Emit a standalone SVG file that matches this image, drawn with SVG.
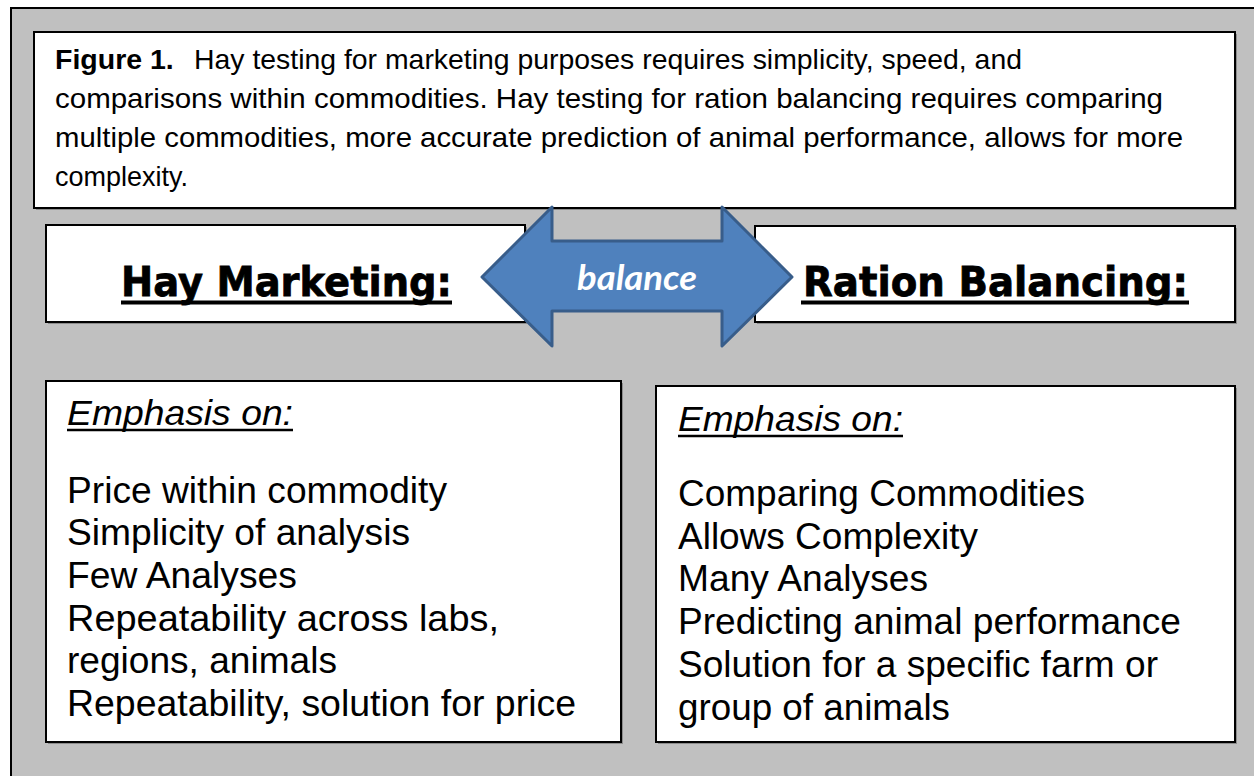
<svg xmlns="http://www.w3.org/2000/svg" width="1254" height="776" viewBox="0 0 1254 776">
  <style>
    .panel { fill: #ffffff; stroke: #000000; stroke-width: 2; }
    .shadow { fill: #8c8c8c; }
    .cap { font-family: "Liberation Sans", Arial, sans-serif; font-size: 28.5px; fill: #000000; }
    .head { font-family: "DejaVu Sans", "Liberation Sans", sans-serif; font-weight: bold; font-size: 41px; fill: #000000; stroke: #000000; stroke-width: 0.8px; }
    .body { font-family: "Liberation Sans", Arial, sans-serif; font-size: 36px; fill: #000000; }
    .emph { font-family: "Liberation Sans", Arial, sans-serif; font-size: 35px; font-style: italic; fill: #000000; }
    .rule { stroke: #000000; }
  </style>

  <!-- page -->
  <rect x="0" y="0" width="1254" height="776" fill="#ffffff"/>
  <rect x="11" y="8" width="1260" height="790" fill="#c0c0c0" stroke="#000000" stroke-width="2"/>

  <!-- caption -->
  <g id="caption">
    <rect class="shadow" x="36" y="34" width="1201" height="176"/>
    <rect class="panel" x="34" y="32" width="1201" height="176"/>
    <text class="cap" x="55" y="69"><tspan font-weight="bold">Figure 1.</tspan><tspan x="194" textLength="828" lengthAdjust="spacingAndGlyphs">Hay testing for marketing purposes requires simplicity, speed, and</tspan></text>
    <text class="cap" x="55" y="108" textLength="1108" lengthAdjust="spacingAndGlyphs">comparisons within commodities. Hay testing for ration balancing requires comparing</text>
    <text class="cap" x="55" y="147" textLength="1128" lengthAdjust="spacingAndGlyphs">multiple commodities, more accurate prediction of animal performance, allows for more</text>
    <text class="cap" x="55" y="186" textLength="133" lengthAdjust="spacingAndGlyphs">complexity.</text>
  </g>

  <!-- heading: hay marketing -->
  <g id="hay-marketing">
    <rect class="shadow" x="48" y="227" width="479" height="97"/>
    <rect class="panel" x="46" y="225" width="479" height="97"/>
    <text class="head" x="121" y="296" textLength="331" lengthAdjust="spacingAndGlyphs">Hay Marketing:</text>
    <line class="rule" x1="121" y1="302.5" x2="452" y2="302.5" stroke-width="4"/>
  </g>

  <!-- heading: ration balancing -->
  <g id="ration-balancing">
    <rect class="shadow" x="757" y="228" width="480" height="96"/>
    <rect class="panel" x="755" y="226" width="480" height="96"/>
    <text class="head" x="803" y="296" textLength="385" lengthAdjust="spacingAndGlyphs">Ration Balancing:</text>
    <line class="rule" x1="801" y1="302.5" x2="1189" y2="302.5" stroke-width="4"/>
  </g>

  <!-- connectors -->
  <g id="connectors">
    <polygon points="482,277 552,207 552,241 722,241 722,207 792,277 722,346 722,311 552,311 552,346"
             fill="#4f81bd" stroke="#385d8a" stroke-width="3" stroke-linejoin="round"/>
    <text x="637" y="290" text-anchor="middle" font-family="Lato, 'Open Sans', sans-serif" font-size="34" font-weight="bold" font-style="italic" fill="#ffffff" textLength="120" lengthAdjust="spacingAndGlyphs">balance</text>
  </g>

  <!-- emphasis: marketing -->
  <g id="marketing-emphasis">
    <rect class="shadow" x="48" y="383" width="575" height="361"/>
    <rect class="panel" x="46" y="381" width="575" height="361"/>
    <text class="emph" x="67" y="425" textLength="226" lengthAdjust="spacingAndGlyphs">Emphasis on:</text>
    <line class="rule" x1="67" y1="430" x2="293" y2="430" stroke-width="2.5"/>
    <text class="body" x="67" y="503" textLength="380" lengthAdjust="spacingAndGlyphs">Price within commodity</text>
    <text class="body" x="67" y="545" textLength="343" lengthAdjust="spacingAndGlyphs">Simplicity of analysis</text>
    <text class="body" x="67" y="588" textLength="230" lengthAdjust="spacingAndGlyphs">Few Analyses</text>
    <text class="body" x="67" y="631" textLength="432" lengthAdjust="spacingAndGlyphs">Repeatability across labs,</text>
    <text class="body" x="67" y="673" textLength="270" lengthAdjust="spacingAndGlyphs">regions, animals</text>
    <text class="body" x="67" y="716" textLength="509" lengthAdjust="spacingAndGlyphs">Repeatability, solution for price</text>
  </g>

  <!-- emphasis: ration balancing -->
  <g id="ration-emphasis">
    <rect class="shadow" x="658" y="388" width="579" height="356"/>
    <rect class="panel" x="656" y="386" width="579" height="356"/>
    <text class="emph" x="678" y="431" textLength="225" lengthAdjust="spacingAndGlyphs">Emphasis on:</text>
    <line class="rule" x1="678" y1="436" x2="903" y2="436" stroke-width="2.5"/>
    <text class="body" x="678" y="506" textLength="407" lengthAdjust="spacingAndGlyphs">Comparing Commodities</text>
    <text class="body" x="678" y="549" textLength="300" lengthAdjust="spacingAndGlyphs">Allows Complexity</text>
    <text class="body" x="678" y="591" textLength="250" lengthAdjust="spacingAndGlyphs">Many Analyses</text>
    <text class="body" x="678" y="634" textLength="503" lengthAdjust="spacingAndGlyphs">Predicting animal performance</text>
    <text class="body" x="678" y="677" textLength="480" lengthAdjust="spacingAndGlyphs">Solution for a specific farm or</text>
    <text class="body" x="678" y="720" textLength="272" lengthAdjust="spacingAndGlyphs">group of animals</text>
  </g>
</svg>
